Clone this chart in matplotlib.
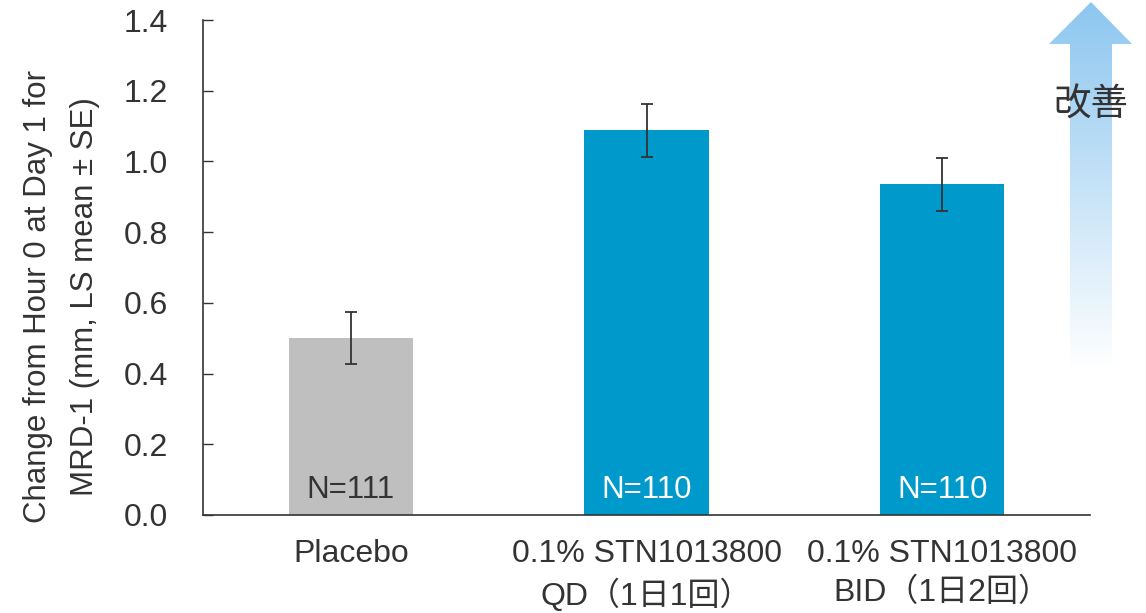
import numpy as np
import matplotlib
matplotlib.use("Agg")
import matplotlib.pyplot as plt
from matplotlib.patches import Polygon
from matplotlib.colors import to_rgb

plt.rcParams['font.family'] = ['Liberation Sans', 'Noto Sans CJK JP', 'DejaVu Sans']

categories = ["Placebo", "0.1% STN1013800\nQD（1日1回）", "0.1% STN1013800\nBID（1日2回）"]
means = [0.50, 1.088, 0.935]
se = [0.074, 0.075, 0.074]
n_labels = ["N=111", "N=110", "N=110"]
bar_colors = ["#BFBFBF", "#0099CC", "#0099CC"]
n_colors = ["#333333", "#FFFFFF", "#FFFFFF"]
yticks = [0.0, 0.2, 0.4, 0.6, 0.8, 1.0, 1.2, 1.4]
ylabel = "Change from Hour 0 at Day 1 for\nMRD-1 (mm, LS mean ± SE)"
arrow_text = "改善"

W, H = 1146, 613
fig = plt.figure(figsize=(W / 100, H / 100), dpi=100)
ax = fig.add_axes([203 / W, (H - 515) / H, 887 / W, 495 / H])

x = np.arange(len(categories))
ax.bar(x, means, width=0.42, color=bar_colors, zorder=2)
ax.errorbar(x, means, yerr=se, fmt='none', ecolor='#333333', elinewidth=1.3,
            capsize=4.3, capthick=1.3, zorder=3)
for xi, t, c in zip(x, n_labels, n_colors):
    ax.text(xi, 0.07, t, ha='center', va='center', fontsize=22.5, color=c, zorder=4)

ax.set_xlim(-0.5, 2.5)
ax.set_ylim(0, 1.4)
ax.set_yticks(yticks)
ax.set_yticklabels([f"{v:.1f}" for v in yticks])
ax.set_xticks(x)
ax.set_xticklabels(categories, linespacing=1.38)
ax.tick_params(axis='y', direction='in', length=7, width=1, color='#333333',
               labelsize=23, labelcolor='#333333', pad=25)
ax.tick_params(axis='x', length=0, labelsize=23, labelcolor='#333333', pad=17)
for s in ['top', 'right']:
    ax.spines[s].set_visible(False)
for s in ['left', 'bottom']:
    ax.spines[s].set_color('#333333')
    ax.spines[s].set_linewidth(1.2)
ax.set_ylabel(ylabel, fontsize=22.5, color='#333333', linespacing=1.73)
ax.yaxis.set_label_coords((100 - 203) / 887, 0.442)

# gradient arrow
x0, x1, y0, y1 = 1040, 1140, 0, 380
ax2 = fig.add_axes([x0 / W, (H - y1) / H, (x1 - x0) / W, (y1 - y0) / H])
ax2.set_xlim(x0, x1)
ax2.set_ylim(y1, y0)
ax2.axis('off')
top = np.array(to_rgb("#8CC6F0"))
white = np.array([1.0, 1.0, 1.0])
t = np.linspace(0, 1, 300)[:, None]
grad = top[None, :] * (1 - t) + white[None, :] * t
img = np.repeat(grad[:, None, :], 2, axis=1)
im = ax2.imshow(img, extent=[x0, x1, 370, 0], aspect='auto', interpolation='bilinear')
poly = Polygon([(1091, 2), (1132, 44), (1112, 44), (1112, 370), (1070, 370),
                (1070, 44), (1049, 44)], closed=True, transform=ax2.transData,
               facecolor='none', edgecolor='none')
ax2.add_patch(poly)
im.set_clip_path(poly)
fig.text(1091 / W, (H - 105) / H, arrow_text, ha='center', va='center',
         fontsize=27, color='#333333', family=['Noto Sans CJK JP'])

fig.savefig("out.png", dpi=100)
